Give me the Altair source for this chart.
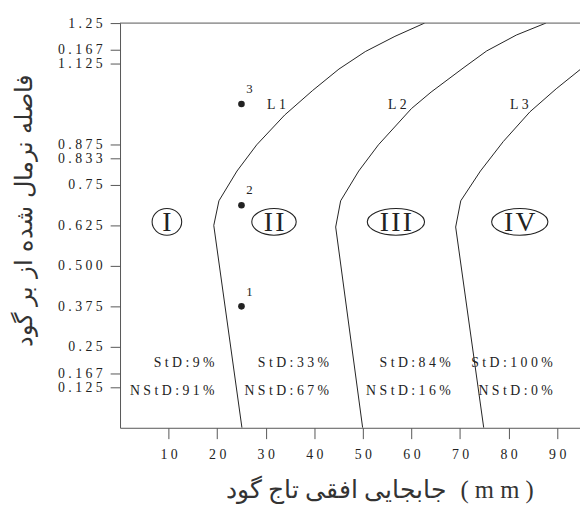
import altair as alt
import pandas as pd

# ---------------- data ----------------
L1_x = [25.1, 19.3, 20.36, 24.08, 28.14, 33.9, 39.67, 45.07, 50.5, 56.6, 62.7]
L1_y = [0.0, 0.625, 0.701, 0.793, 0.874, 0.966, 1.042, 1.108, 1.162, 1.209, 1.25]

L2_x = [49.95, 44.4, 45.42, 49.14, 53.2, 60.0, 64.05, 70.82, 75.49, 81.59, 87.68]
L2_y = [0.0, 0.62, 0.701, 0.793, 0.874, 0.986, 1.037, 1.113, 1.164, 1.213, 1.25]

L3_x = [74.88, 69.1, 70.15, 74.2, 78.9, 84.4, 89.8, 94.86]
L3_y = [0.0, 0.62, 0.701, 0.793, 0.884, 0.976, 1.047, 1.108]

curve_names = ["L1", "L2", "L3"]
curve_label_x = [32.2, 57.1, 82.2]
curve_label_y = [0.997, 0.997, 0.997]

point_ids = ["1", "2", "3"]
point_x = [25, 25, 25]
point_y = [0.375, 0.6875, 1.0]

region_names = ["I", "II", "III", "IV"]
region_x = [9.65, 31.7, 56.8, 82.3]
region_y = [0.636, 0.636, 0.636, 0.636]

std_pct = [9, 33, 84, 100]
nstd_pct = [91, 67, 16, 0]
pct_text_x = [19.47, 43.04, 68.1, 89.1]
std_text_y = 0.201
nstd_text_y = 0.113

x_ticks = [10, 20, 30, 40, 50, 60, 70, 80, 90]
y_ticks = [0.125, 0.167, 0.25, 0.375, 0.5, 0.625, 0.75, 0.833, 0.875, 1.125, 1.167, 1.25]
y_tick_labels = ["0.125", "0.167", "0.25", "0.375", "0.500", "0.625", "0.75",
                 "0.833", "0.875", "1.125", "0.167", "1.25"]

x_title_fa = "جابجایی افقی تاج گود"
x_unit = "(mm)"
y_title = "فاصله نرمال شده از بر گود"

# ---------------- styling helpers ----------------
GAP = "\u2005"
WGAP = "\u2004"
HAIR = "\u200A"
def sp(s, g=GAP):
    return g.join(list(s))

def lookup_expr(vals, labels):
    expr = "''"
    for v, l in zip(vals, labels):
        expr = f"datum.value == {v} ? '{l}' : ({expr})"
    return expr

SERIF = "Liberation Serif"
ARABIC = "DejaVu Sans"
MIXED = "Liberation Serif, DejaVu Sans"
INK = "#222222"
TITLE_INK = "#333333"
AXIS = "#555555"

XMAX = 94.7
xs = alt.Scale(domain=[0, XMAX], nice=False, zero=False)
ys = alt.Scale(domain=[0, 1.25], nice=False, zero=False)

x_title = x_title_fa + " " + WGAP + sp(x_unit)

# ---------------- tables ----------------
rows = []
for name, cx, cy in zip(curve_names, [L1_x, L2_x, L3_x], [L1_y, L2_y, L3_y]):
    for i, (a, b) in enumerate(zip(cx, cy)):
        rows.append({"curve": name, "i": i, "x": a, "y": b})
curves_df = pd.DataFrame(rows)

clabel_df = pd.DataFrame({"x": curve_label_x, "y": curve_label_y,
                          "t": [sp(n) for n in curve_names]})
pts_df = pd.DataFrame({"x": point_x, "y": point_y, "t": point_ids})

ell_w = {"I": 30, "II": 45, "III": 58, "IV": 57}
ell_h = 27
def ell_path(w, h):
    r = h / w
    return f"M -1 0 A 1 {r:.3f} 0 1 1 1 0 A 1 {r:.3f} 0 1 1 -1 0 Z"

reg_df = pd.DataFrame({"x": region_x, "y": region_y,
                       "t": [sp(n, HAIR) for n in region_names],
                       "shape": [ell_path(ell_w[n], ell_h) for n in region_names],
                       "size": [ell_w[n] ** 2 for n in region_names]})

std_df = pd.DataFrame({"x": pct_text_x, "y": [std_text_y] * 4,
                       "t": [sp(f"StD:{p}%") for p in std_pct]})
nstd_df = pd.DataFrame({"x": pct_text_x, "y": [nstd_text_y] * 4,
                        "t": [sp(f"NStD:{p}%") for p in nstd_pct]})

frame_df = pd.DataFrame({"x": [0.0, XMAX], "y": [1.25, 1.25]})

# ---------------- layers ----------------
x_axis = alt.Axis(values=x_ticks, tickCount=30, title=x_title,
                  labelExpr=lookup_expr(x_ticks, [sp(str(v)) for v in x_ticks]),
                  labelFont=SERIF, labelFontSize=14, labelColor=INK, labelOverlap=False,
                  labelPadding=9, tickSize=11, tickColor=AXIS, domainColor=AXIS,
                  grid=False, titleFont=MIXED, titleFontSize=25, titleFontWeight=300,
                  titleColor=TITLE_INK, titleX=262.5, titleY=63, titleBaseline="middle",
                  titleAlign="center")
y_axis = alt.Axis(values=y_ticks, tickCount=30, title=y_title,
                  labelExpr=lookup_expr(y_ticks, [sp(l) for l in y_tick_labels]),
                  labelFont=SERIF, labelFontSize=14, labelColor=INK,
                  labelOverlap=False, labelFlush=False,
                  labelPadding=8, tickSize=10, tickColor=AXIS, domainColor=AXIS,
                  grid=False, titleFont=ARABIC, titleFontSize=24, titleFontWeight=300,
                  titleColor=TITLE_INK, titleX=-97, titleY=190, titleBaseline="middle",
                  titleAlign="center", titleAngle=-90)

curves = alt.Chart(curves_df).mark_line(clip=True, color=INK, strokeWidth=1).encode(
    x=alt.X("x:Q", scale=xs, axis=x_axis),
    y=alt.Y("y:Q", scale=ys, axis=y_axis),
    detail="curve:N",
    order="i:Q",
)

top_line = alt.Chart(frame_df).mark_line(color=AXIS, strokeWidth=1).encode(
    x=alt.X("x:Q", scale=xs), y=alt.Y("y:Q", scale=ys)
)

points = alt.Chart(pts_df).mark_circle(size=45, color=INK, opacity=1).encode(
    x=alt.X("x:Q", scale=xs), y=alt.Y("y:Q", scale=ys))

point_text = alt.Chart(pts_df).mark_text(font=SERIF, fontSize=13, color=INK, dx=8, dy=-15,
                                         align="center", baseline="middle").encode(
    x=alt.X("x:Q", scale=xs), y=alt.Y("y:Q", scale=ys), text="t:N")

curve_text = alt.Chart(clabel_df).mark_text(font=SERIF, fontSize=14, color=INK,
                                            align="center", baseline="middle").encode(
    x=alt.X("x:Q", scale=xs), y=alt.Y("y:Q", scale=ys), text="t:N")

ellipses = alt.Chart(reg_df).mark_point(filled=False, color=INK, strokeWidth=1.1, opacity=1).encode(
    x=alt.X("x:Q", scale=xs), y=alt.Y("y:Q", scale=ys),
    shape=alt.Shape("shape:N", scale=None),
    size=alt.Size("size:Q", scale=None))

region_text = alt.Chart(reg_df).mark_text(font=SERIF, fontSize=28, color=INK,
                                          align="center", baseline="middle", dy=1).encode(
    x=alt.X("x:Q", scale=xs), y=alt.Y("y:Q", scale=ys), text="t:N")

std_text = alt.Chart(std_df).mark_text(font=SERIF, fontSize=14, color=INK,
                                       align="right", baseline="middle").encode(
    x=alt.X("x:Q", scale=xs), y=alt.Y("y:Q", scale=ys), text="t:N")

nstd_text = alt.Chart(nstd_df).mark_text(font=SERIF, fontSize=14, color=INK,
                                         align="right", baseline="middle").encode(
    x=alt.X("x:Q", scale=xs), y=alt.Y("y:Q", scale=ys), text="t:N")

chart = alt.layer(curves, top_line, points, point_text, curve_text, ellipses,
                  region_text, std_text, nstd_text).properties(
    width=466, height=410,
    autosize=alt.AutoSizeParams(type="none"),
    padding={"left": 113.5, "top": 12, "right": 0, "bottom": 78},
    background="white",
).configure_view(stroke=None)

chart.save("out.html", embed_options={"renderer": "svg", "actions": False})
